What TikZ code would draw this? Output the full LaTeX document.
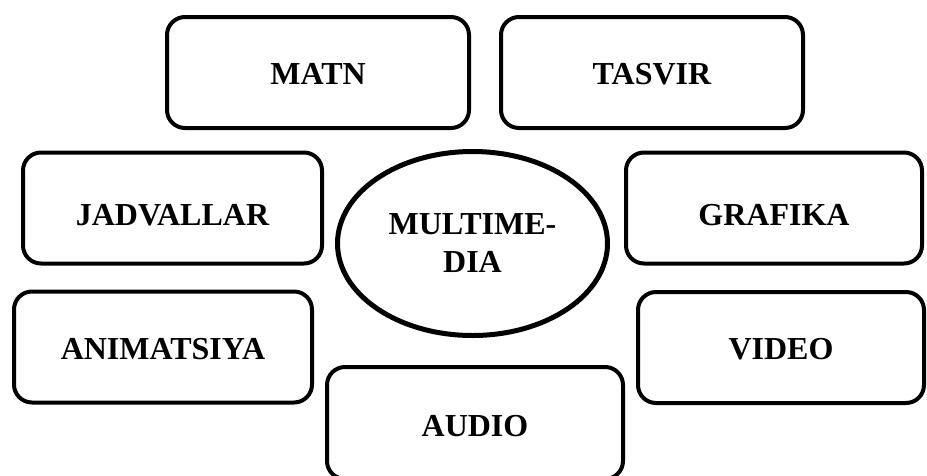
\documentclass[tikz,border=0pt]{standalone}
\usepackage{fontspec}
\setmainfont{Liberation Serif}
\usetikzlibrary{shapes.geometric}
\tikzset{
  itembox/.style={draw=black, line width=4pt, rounded corners=18pt, fill=white,
    inner sep=0pt, minimum height=111pt, text height=21pt, text depth=0pt,
    font=\fontsize{32}{38}\selectfont\bfseries},
  lowtext/.style={text height=#1},
  centre/.style={draw=black, line width=5pt, ellipse, inner sep=0pt,
    minimum width=270pt, minimum height=184pt, align=center,
    font=\fontsize{32}{38}\selectfont\bfseries}
}
\begin{document}
\begin{tikzpicture}[x=1pt,y=-1pt]
\useasboundingbox (0,0) rectangle (927,475);
\node[itembox, minimum width=302pt, lowtext=24pt] (matn) at (318,72.5) {MATN};
\node[itembox, minimum width=302pt, lowtext=24pt] (tasvir) at (652,72.5) {TASVIR};
\node[itembox, minimum width=299pt, lowtext=35pt] (jadval) at (172.5,208) {JADVALLAR};
\node[itembox, minimum width=296pt, lowtext=35pt] (grafika) at (774,208) {GRAFIKA};
\node[centre] (multi) at (472.5,243.5) {MULTIME-\\DIA};
\node[itembox, minimum width=298pt, lowtext=25pt] (anim) at (163,347) {ANIMATSIYA};
\node[itembox, minimum width=286pt, lowtext=24pt] (video) at (781,347.5) {VIDEO};
\node[itembox, minimum width=296pt, minimum height=112pt, lowtext=27pt] (audio) at (475,423) {AUDIO};
\end{tikzpicture}
\end{document}
